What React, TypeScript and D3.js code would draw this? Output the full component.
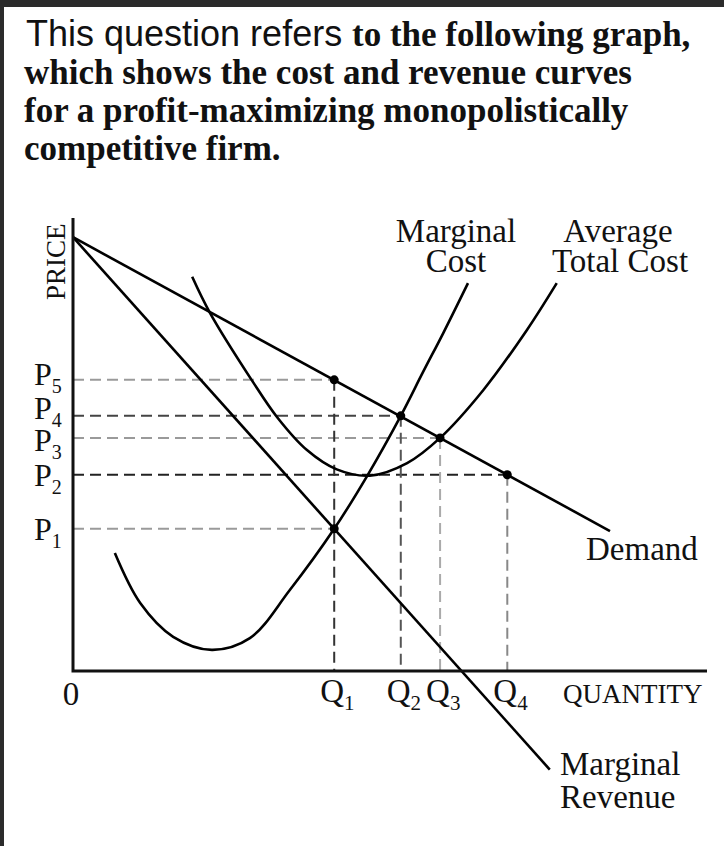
import React from 'react';
import * as d3 from 'd3';

// ---------- data ----------
const titleSans = 'This question refers';
const titleBold = [
  'to the following graph,',
  'which shows the cost and revenue curves',
  'for a profit-maximizing monopolistically',
  'competitive firm.',
];
const priceLabels = ['1', '2', '3', '4', '5'];
const priceLevels = [31.6, 43.6, 51.8, 56.7, 64.7]; // P1..P5
const quantityLabels = ['1', '2', '3', '4'];
const quantityLevels = [41.2, 51.7, 57.9, 68.5]; // Q1..Q4

const demandCurve: [number, number][] = [[0, 96.4], [84.7, 31.1]];
const marginalRevenueCurve: [number, number][] = [[0, 96.4], [75.2, -21.9]];
const marginalCostCurve: [number, number][] = [
  [6.6, 26.2], [10.6, 15.1], [15.8, 7.6], [21.9, 4.7], [27.9, 7.3], [34.2, 18.0],
  [41.2, 31.6], [46.5, 43.6], [51.7, 56.7], [55.2, 66.4], [58.4, 75.1], [62.3, 86.2],
];
const averageTotalCostCurve: [number, number][] = [
  [18.8, 87.6], [21.6, 79.6], [28.4, 64.2], [32.2, 56.4], [36.9, 49.1], [41.6, 44.8],
  [46.8, 43.4], [52.7, 46.2], [57.9, 51.8], [64.7, 62.4], [71.6, 75.8], [76.3, 86.2],
];
// [quantity, price] marked points
const markedPoints: [number, number][] = [
  [41.2, 64.7], [51.7, 56.7], [57.9, 51.8], [68.5, 43.6], [41.2, 31.6],
];

// ---------- layout ----------
const W = 724;
const H = 846;
const x = d3.scaleLinear().domain([0, 100]).range([73, 707]);
const y = d3.scaleLinear().domain([0, 100]).range([671, 221]);

const serif = '"Liberation Serif", "Times New Roman", serif';
const sans = '"Liberation Sans", Arial, sans-serif';

const hDashColors = ['#9a9a9a', '#222', '#9a9a9a', '#444', '#9a9a9a'];
const vDashColors = ['#333', '#555', '#aaa', '#888'];
const pLabelOffsets = [11, 11, 13, 3, 5];

export default function App() {
  const curve = d3.line<[number, number]>()
    .x(d => x(d[0]))
    .y(d => y(d[1]))
    .curve(d3.curveCatmullRom.alpha(0.5));
  const straight = d3.line<[number, number]>().x(d => x(d[0])).y(d => y(d[1]));

  const hLines = priceLevels.map(p => {
    const pt = markedPoints.find(m => Math.abs(m[1] - p) < 0.01);
    return { p, q: pt ? pt[0] : 0 };
  });
  const vLines = quantityLevels.map(q => {
    const ps = markedPoints.filter(m => Math.abs(m[0] - q) < 0.01).map(m => m[1]);
    return { q, p: d3.max(ps) ?? 0 };
  });

  return (
    <div style={{ position: 'absolute', left: 0, top: 0 }}>
      <svg width={W} height={H} style={{ display: 'block', background: '#fff' }}>
        <rect x={0} y={0} width={W} height={H} fill="#fff" />
        <rect x={0} y={0} width={4} height={H} fill="#2b2b2b" />
        <rect x={0} y={0} width={W} height={7} fill="#2b2b2b" />

        {/* title */}
        <text x={26} y={46} fontFamily={sans} fontSize={36} fill="#111">{titleSans}</text>
        <text x={352} y={46} fontFamily={serif} fontWeight="bold" fontSize={35} fill="#111">{titleBold[0]}</text>
        {titleBold.slice(1).map((t, i) => (
          <text key={i} x={24} y={84 + i * 38} fontFamily={serif} fontWeight="bold" fontSize={35} fill="#111">{t}</text>
        ))}

        {/* dashed guides */}
        {hLines.map((h, i) => (
          <line key={'h' + i} x1={x(0)} x2={x(h.q)} y1={y(h.p)} y2={y(h.p)}
            stroke={hDashColors[i]} strokeWidth={2} strokeDasharray="11,6" />
        ))}
        {vLines.map((v, i) => (
          <line key={'v' + i} x1={x(v.q)} x2={x(v.q)} y1={y(v.p)} y2={y(0)}
            stroke={vDashColors[i]} strokeWidth={2} strokeDasharray="11,6" />
        ))}

        {/* curves */}
        <path d={straight(demandCurve) || ''} fill="none" stroke="#000" strokeWidth={2.6} />
        <path d={straight(marginalRevenueCurve) || ''} fill="none" stroke="#000" strokeWidth={2.6} />
        <path d={curve(marginalCostCurve) || ''} fill="none" stroke="#000" strokeWidth={2.6} />
        <path d={curve(averageTotalCostCurve) || ''} fill="none" stroke="#000" strokeWidth={2.6} />

        {markedPoints.map((m, i) => (
          <circle key={'c' + i} cx={x(m[0])} cy={y(m[1])} r={4.5} fill="#000" />
        ))}

        {/* axes */}
        <path d={`M${x(0)},${y(100) - 3}V${y(0)}H${x(100)}`} fill="none" stroke="#111" strokeWidth={3} />

        {/* axis labels */}
        <text transform={`translate(65,300) rotate(-90)`} fontFamily={serif} fontSize={27} fill="#111">PRICE</text>
        <text x={563} y={703} fontFamily={serif} fontSize={27} fill="#111">QUANTITY</text>
        <text x={71} y={705} textAnchor="middle" fontFamily={serif} fontSize={33} fill="#111">0</text>

        {priceLevels.map((p, i) => (
          <text key={'pl' + i} x={34} y={y(p) + pLabelOffsets[i]} fontFamily={serif} fontSize={32} fill="#111">
            P<tspan fontSize={20} dy={8}>{priceLabels[i]}</tspan>
          </text>
        ))}
        {quantityLevels.map((q, i) => (
          <text key={'ql' + i} x={x(q) - 14} y={702} fontFamily={serif} fontSize={33} fill="#111">
            Q<tspan fontSize={21} dy={8}>{quantityLabels[i]}</tspan>
          </text>
        ))}

        {/* curve labels */}
        <g fontFamily={serif} fontSize={33} fill="#111">
          <text x={456} y={242} textAnchor="middle">Marginal</text>
          <text x={456} y={272} textAnchor="middle">Cost</text>
          <text x={618} y={242} textAnchor="middle">Average</text>
          <text x={620} y={272} textAnchor="middle">Total Cost</text>
          <text x={586} y={560}>Demand</text>
          <text x={560} y={775}>Marginal</text>
          <text x={560} y={808}>Revenue</text>
        </g>
      </svg>
    </div>
  );
}
